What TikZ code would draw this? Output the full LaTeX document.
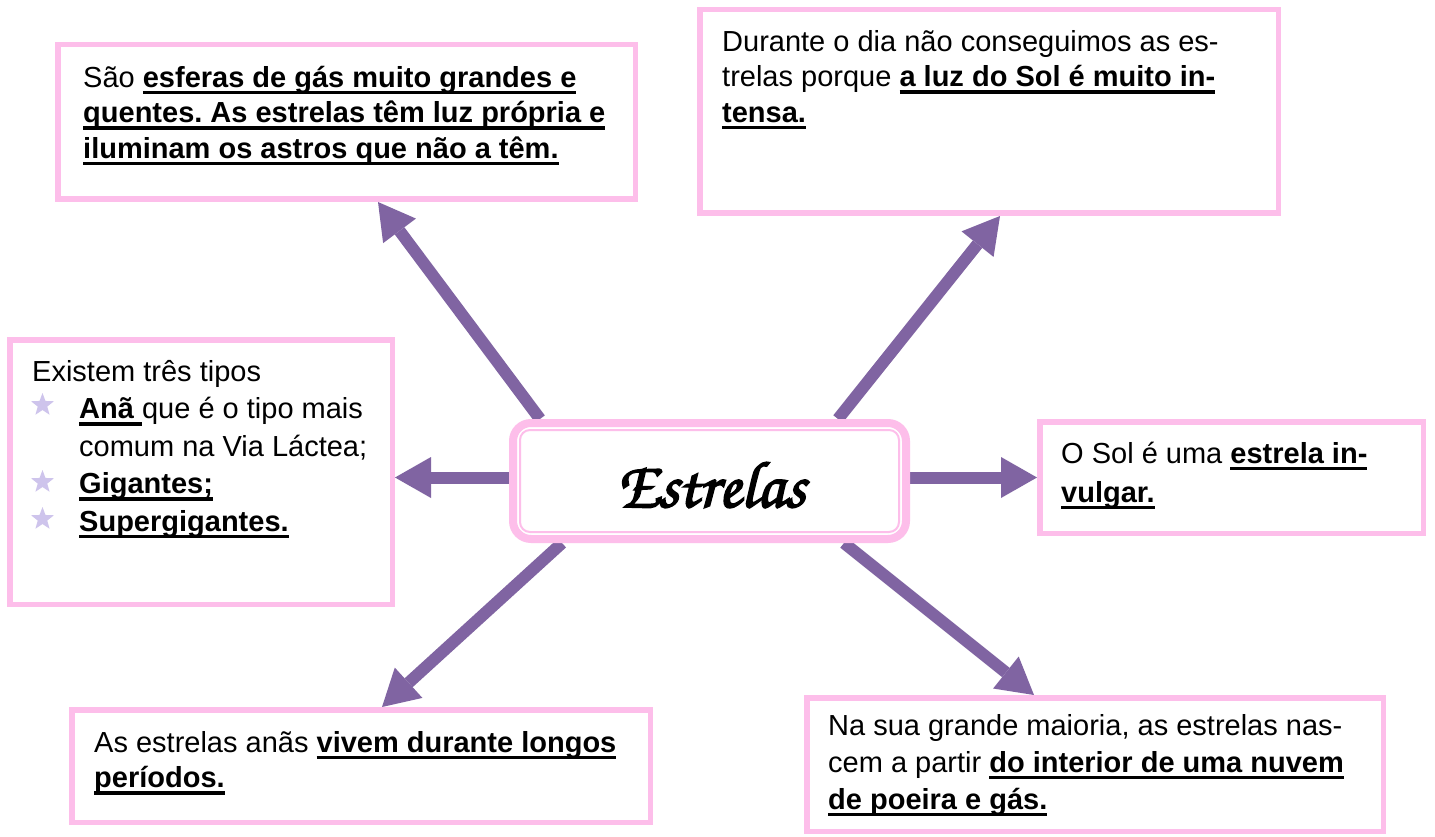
\documentclass[tikz,border=0pt]{standalone}
\usepackage{fontspec}
\setmainfont{Liberation Sans}
\newfontfamily\chorus[FakeBold=2.5]{texgyrechorus-mediumitalic.otf}
\usetikzlibrary{arrows.meta,shapes.geometric}
\pgfdeclarelayer{bg}
\pgfsetlayers{bg,main}
\definecolor{pinkb}{RGB}{253,190,234}
\definecolor{arrowc}{RGB}{128,100,162}
\definecolor{starc}{RGB}{206,196,236}
\newsavebox{\ulbox}
\newcommand{\ub}[1]{\sbox{\ulbox}{\textbf{#1}}\rlap{\rule[-7pt]{\wd\ulbox}{3.4pt}}\usebox{\ulbox}}
\newcommand{\fstrut}{\rule{0pt}{24pt}}
\frenchspacing
\begin{document}
\begin{tikzpicture}[x=1pt,y=-1pt,
  pbox/.style={draw=pinkb,line width=5.5pt,fill=white,inner sep=0pt,rectangle},
  txt/.style={anchor=north west,inner sep=0pt,align=left},
  tnarrow/.style={font=\fontsize{29}{35.5}\selectfont},
  twide/.style={font=\fontsize{29}{37.5}\selectfont},
  arr/.style={draw=arrowc,line width=12pt,-{Triangle[length=36pt,width=41pt,line width=0pt]}},
  starb/.style={star,star points=5,star point ratio=2.4,minimum size=24pt,inner sep=0pt,fill=starc,draw=none}]
\begin{pgfonlayer}{bg}
\fill[white] (0,0) rectangle (1435,837);
\end{pgfonlayer}
\useasboundingbox (0,0) rectangle (1435,837);

% boxes
\node[pbox,minimum width=577.5pt,minimum height=154.5pt] (A) at (346.5,122) {};
\node[pbox,minimum width=578.5pt,minimum height=203.5pt] (B) at (989,111.5) {};
\node[pbox,minimum width=382.5pt,minimum height=264.5pt] (C) at (201,472) {};
\node[pbox,minimum width=383.5pt,minimum height=111.5pt] (D) at (1231.5,477.5) {};
\node[pbox,minimum width=578.5pt,minimum height=112.5pt] (E) at (361,766) {};
\node[pbox,minimum width=576.5pt,minimum height=133.5pt] (F) at (1095,764.5) {};

% centre
\node[draw=pinkb,line width=8pt,fill=white,rounded corners=18pt,inner sep=0pt,
      minimum width=393pt,minimum height=116pt] (c) at (709.5,481) {};
\draw[pinkb,line width=2pt,rounded corners=10pt]
  ([shift={(11pt,-11pt)}]c.north west) rectangle ([shift={(-11pt,11pt)}]c.south east);
\node[anchor=base,inner sep=0pt,font={\chorus\fontsize{66}{66}\selectfont}] (ct) at (711,507) {Estrelas};

% texts
\node[txt,tnarrow] (tA) at (83,63) {\fstrut São \ub{esferas de gás muito grandes e}\\
\ub{quentes. As estrelas têm luz própria e}\\
\ub{iluminam os astros que não a têm.}};

\node[txt,tnarrow] (tB) at (722,27) {\fstrut Durante o dia não conseguimos as es-\\
trelas porque \ub{a luz do Sol é muito in-}\\
\ub{tensa.}};

\node[txt,twide] (tC) at (32,357) {\fstrut Existem três tipos\\
\hspace*{47pt}\ub{Anã\ }que é o tipo mais\\
\hspace*{47pt}comum na Via Láctea;\\
\hspace*{47pt}\ub{Gigantes;}\\
\hspace*{47pt}\ub{Supergigantes.}};

\node[starb] (s1) at (42.5,405) {};
\node[starb] (s2) at (42.5,482) {};
\node[starb] (s3) at (42.5,519) {};

\node[txt,font=\fontsize{29}{39}\selectfont] (tD) at (1061,439) {\fstrut O Sol é uma \ub{estrela in-}\\
\ub{vulgar.}};

\node[txt,tnarrow] (tE) at (94,728) {\fstrut As estrelas anãs \ub{vivem durante longos}\\
\ub{períodos.}};

\node[txt,font=\fontsize{29}{37}\selectfont] (tF) at (828,711) {\fstrut Na sua grande maioria, as estrelas nas-\\
cem a partir \ub{do interior de uma nuvem}\\
\ub{de poeira e gás.}};

% arrows
\begin{pgfonlayer}{bg}
\draw[arr] ([xshift=-169.5pt]c.north) -- ([xshift=31.5pt]A.south);
\draw[arr] ([xshift=128.5pt]c.north) -- ([xshift=11pt]B.south);
\draw[arr] ([yshift=3.5pt]c.west) -- ([yshift=-5.5pt]C.east);
\draw[arr] ([yshift=3.5pt]c.east) -- (D.west);
\draw[arr] ([xshift=-147.5pt]c.south) -- ([xshift=21pt]E.north);
\draw[arr] ([xshift=134.5pt]c.south) -- ([xshift=-61pt]F.north);
\end{pgfonlayer}
\end{tikzpicture}
\end{document}
